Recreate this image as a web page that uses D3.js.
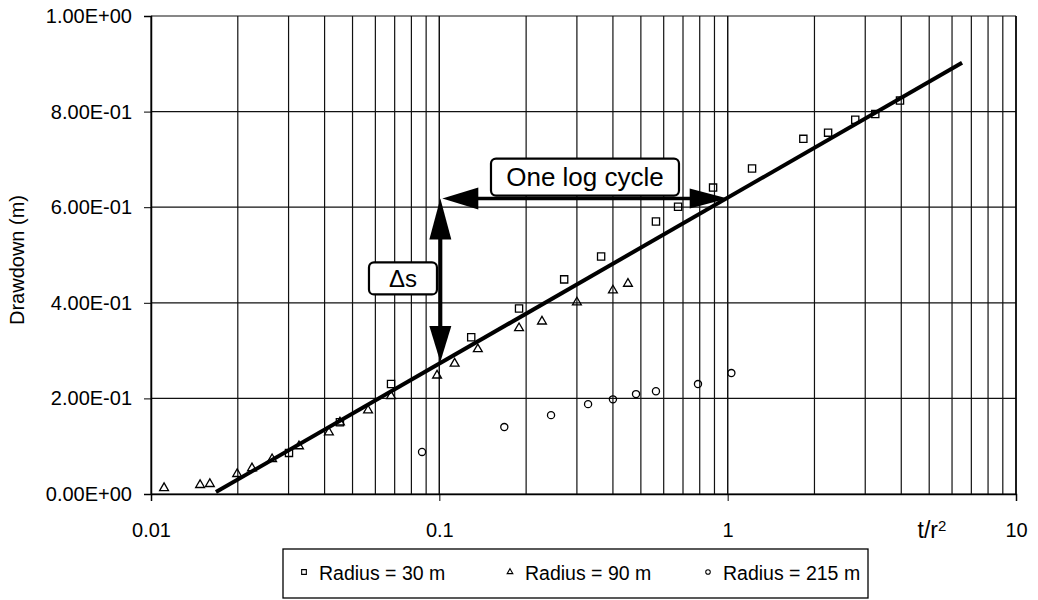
<!DOCTYPE html>
<html>
<head>
<meta charset="utf-8">
<script src="https://cdn.jsdelivr.net/npm/d3@7"></script>
<style>
  body { margin: 0; background: #fff; }
  text { font-family: "Liberation Sans", Arial, sans-serif; fill: #000; }
</style>
</head>
<body>
<div id="chart"></div>
<script>
var r30T = [0.0301, 0.0452, 0.068, 0.129, 0.189, 0.271, 0.364, 0.564, 0.673, 0.89, 1.215, 1.83, 2.23, 2.77, 3.25, 3.96];
var r30S = [0.086, 0.150, 0.230, 0.328, 0.388, 0.449, 0.497, 0.570, 0.601, 0.641, 0.681, 0.743, 0.756, 0.783, 0.795, 0.823];

var r90T = [0.0111, 0.0148, 0.016, 0.0199, 0.0224, 0.0263, 0.0326, 0.0414, 0.0452, 0.0566, 0.068, 0.0982, 0.113, 0.136, 0.189, 0.227, 0.300, 0.400, 0.451];
var r90S = [0.0125, 0.019, 0.021, 0.042, 0.054, 0.073, 0.100, 0.129, 0.150, 0.175, 0.205, 0.248, 0.273, 0.303, 0.347, 0.361, 0.401, 0.426, 0.440];

var r215T = [0.0871, 0.168, 0.244, 0.328, 0.400, 0.481, 0.564, 0.789, 1.03];
var r215S = [0.088, 0.140, 0.165, 0.188, 0.198, 0.209, 0.215, 0.230, 0.253];

// straight-line fit
var fitT = [0.0168, 6.5];
var fitS = [0.004, 0.902];

// annotation arrows
var cycleT = [0.1, 1];
var cycleS = 0.618;
var dsT = 0.1;
var dsS = [0.618, 0.276];

var yTicks = [0, 0.2, 0.4, 0.6, 0.8, 1.0];
var xTicks = [0.01, 0.1, 1, 10];
var legendNames = ["Radius = 30 m", "Radius = 90 m", "Radius = 215 m"];

var width = 1038, height = 600;
var plotLeft = 151, plotRight = 1016, plotTop = 16, plotBottom = 494;

var svg = d3.select("#chart").append("svg")
    .attr("width", width)
    .attr("height", height);

var x = d3.scaleLog().domain([0.01, 10]).range([plotLeft, plotRight]);
var y = d3.scaleLinear().domain([0, 1]).range([plotBottom, plotTop]);

// vertical grid lines 1..9 in each decade
var gridX = [];
[0.01, 0.1, 1].forEach(function(dec) {
    for (var k = 1; k <= 10; k++) gridX.push(dec * k);
});

svg.append("g").selectAll("line")
    .data(gridX)
    .enter().append("line")
    .attr("x1", d => x(d)).attr("x2", d => x(d))
    .attr("y1", plotTop).attr("y2", plotBottom)
    .attr("stroke", "#111")
    .attr("stroke-width", 1.2);

svg.append("g").selectAll("line")
    .data(yTicks)
    .enter().append("line")
    .attr("x1", plotLeft).attr("x2", plotRight)
    .attr("y1", d => y(d)).attr("y2", d => y(d))
    .attr("stroke", "#111")
    .attr("stroke-width", 1.2);

// axes
var yAxis = d3.axisLeft(y)
    .tickValues(yTicks)
    .tickSize(7)
    .tickPadding(12)
    .tickFormat(function(d) {
        var s = d.toExponential(2).toUpperCase();
        return s.replace(/E([+-])(\d)$/, "E$10$2");
    });
var gy = svg.append("g").attr("transform", "translate(" + plotLeft + ",0)").call(yAxis);
gy.select(".domain").attr("stroke", "#000").attr("stroke-width", 1.5);
gy.selectAll("text").style("font-size", "20px").attr("fill", "#000");

var xAxis = d3.axisBottom(x)
    .tickValues(xTicks)
    .tickSize(7)
    .tickPadding(22)
    .tickFormat(d3.format("~g"));
var gx = svg.append("g").attr("transform", "translate(0," + plotBottom + ")").call(xAxis);
gx.select(".domain").attr("stroke", "#000").attr("stroke-width", 1.5);
gx.selectAll("text").style("font-size", "20px").attr("fill", "#000");

// right border
svg.append("line")
    .attr("x1", plotRight).attr("x2", plotRight)
    .attr("y1", plotTop).attr("y2", plotBottom)
    .attr("stroke", "#000").attr("stroke-width", 1.5);

// axis titles
svg.append("text")
    .attr("transform", "translate(24,260) rotate(-90)")
    .attr("text-anchor", "middle")
    .style("font-size", "20px")
    .text("Drawdown (m)");

var xt = svg.append("text")
    .attr("x", 932).attr("y", 538)
    .attr("text-anchor", "middle")
    .style("font-size", "23px");
xt.append("tspan").text("t/r");
xt.append("tspan").attr("dy", -7).style("font-size", "15px").text("2");

// fit line
svg.append("path")
    .datum(d3.zip(fitT, fitS))
    .attr("fill", "none")
    .attr("stroke", "#000")
    .attr("stroke-width", 4)
    .attr("d", d3.line().x(d => x(d[0])).y(d => y(d[1])));

// markers
var sym = {
    square: d3.symbol().type(d3.symbolSquare).size(52),
    triangle: d3.symbol().type(d3.symbolTriangle).size(34),
    circle: d3.symbol().type(d3.symbolCircle).size(40)
};
function drawSeries(tv, sv, kind) {
    svg.append("g").selectAll("path")
        .data(d3.zip(tv, sv))
        .enter().append("path")
        .attr("transform", d => "translate(" + x(d[0]) + "," + y(d[1]) + ")")
        .attr("d", sym[kind])
        .attr("fill", "none")
        .attr("stroke", "#000")
        .attr("stroke-width", 1.3);
}
drawSeries(r90T, r90S, "triangle");
drawSeries(r30T, r30S, "square");
drawSeries(r215T, r215S, "circle");

// annotation arrows
function head(tipX, tipY, dir, len, half) {
    var pts;
    if (dir === "left") pts = [[tipX, tipY], [tipX + len, tipY - half], [tipX + len, tipY + half]];
    if (dir === "right") pts = [[tipX, tipY], [tipX - len, tipY - half], [tipX - len, tipY + half]];
    if (dir === "up") pts = [[tipX, tipY], [tipX - half, tipY + len], [tipX + half, tipY + len]];
    if (dir === "down") pts = [[tipX, tipY], [tipX - half, tipY - len], [tipX + half, tipY - len]];
    svg.append("path").attr("d", "M" + pts.join("L") + "Z").attr("fill", "#000");
}
var ay = y(cycleS);
var ax0 = x(cycleT[0]) + 3, ax1 = x(cycleT[1]);
svg.append("line")
    .attr("x1", ax0 + 20).attr("x2", ax1 - 20)
    .attr("y1", ay).attr("y2", ay)
    .attr("stroke", "#000").attr("stroke-width", 3.5);
head(ax0, ay, "left", 36, 11);
head(ax1, ay, "right", 38, 10);

var vx = x(dsT) + 1;
svg.append("line")
    .attr("x1", vx).attr("x2", vx)
    .attr("y1", y(dsS[0]) + 20).attr("y2", y(dsS[1]) - 20)
    .attr("stroke", "#000").attr("stroke-width", 4);
head(vx, y(dsS[0]), "up", 41, 11);
head(vx, y(dsS[1]), "down", 36, 11);

// annotation boxes
function labelBox(cx, cy, w, h, txt, fs) {
    svg.append("rect")
        .attr("x", cx - w / 2).attr("y", cy - h / 2)
        .attr("width", w).attr("height", h)
        .attr("rx", 5)
        .attr("fill", "#fff").attr("stroke", "#000").attr("stroke-width", 2.2);
    svg.append("text")
        .attr("x", cx).attr("y", cy)
        .attr("dy", "0.36em")
        .attr("text-anchor", "middle")
        .style("font-size", fs + "px")
        .text(txt);
}
labelBox(x(0.32), y(0.663), 188, 37, "One log cycle", 26);
labelBox(x(0.0748), y(0.451), 68, 32, "\u0394s", 24);

// legend
var lg = svg.append("g");
lg.append("rect")
    .attr("x", 283).attr("y", 549)
    .attr("width", 585).attr("height", 49)
    .attr("fill", "#fff").attr("stroke", "#000").attr("stroke-width", 1.3);
var legendX = [304, 510, 708];
var legendKinds = ["square", "triangle", "circle"];
var legendSym = {
    square: d3.symbol().type(d3.symbolSquare).size(22),
    triangle: d3.symbol().type(d3.symbolTriangle).size(14),
    circle: d3.symbol().type(d3.symbolCircle).size(16)
};
legendNames.forEach(function(name, i) {
    lg.append("path")
        .attr("transform", "translate(" + legendX[i] + ",572)")
        .attr("d", legendSym[legendKinds[i]])
        .attr("fill", "none").attr("stroke", "#000").attr("stroke-width", 1.1);
    lg.append("text")
        .attr("x", legendX[i] + 15).attr("y", 580)
        .style("font-size", "19.5px")
        .text(name);
});
</script>
</body>
</html>
